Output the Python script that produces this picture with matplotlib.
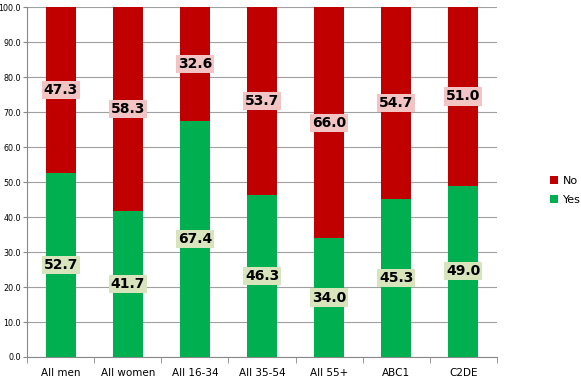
import numpy as np
import matplotlib.pyplot as plt

categories = ['All men', 'All women', 'All 16-34', 'All 35-54', 'All 55+', 'ABC1', 'C2DE']
yes_vals = [52.7, 41.7, 67.4, 46.3, 34.0, 45.3, 49.0]
no_vals = [47.3, 58.3, 32.6, 53.7, 66.0, 54.7, 51.0]

red = '#C00000'
green = '#00B050'

fig = plt.figure(figsize=(5.81, 3.81), dpi=100)
ax = fig.add_axes([0.047, 0.063, 0.808, 0.918])

x = np.arange(len(categories))
ax.bar(x, yes_vals, width=0.44, color=green, label='Yes', zorder=3)
ax.bar(x, no_vals, width=0.44, bottom=yes_vals, color=red, label='No', zorder=3)

# value labels in the middle of each segment
for i in range(len(categories)):
    ax.text(x[i], yes_vals[i] / 2, f'{yes_vals[i]:.1f}', ha='center', va='center',
            fontsize=10, fontweight='bold', zorder=4,
            bbox=dict(boxstyle='square,pad=0.15', facecolor='#D7E4BC', edgecolor='none'))
    ax.text(x[i], yes_vals[i] + no_vals[i] / 2, f'{no_vals[i]:.1f}', ha='center', va='center',
            fontsize=10, fontweight='bold', zorder=4,
            bbox=dict(boxstyle='square,pad=0.15', facecolor='#F2C4C4', edgecolor='none'))

ax.set_xlim(-0.5, len(categories) - 0.5)
ax.set_ylim(0, 100)
ax.set_yticks(np.arange(0, 101, 10))
ax.set_yticklabels([f'{v:.1f}' for v in np.arange(0, 101, 10)], fontsize=5.8)
ax.yaxis.grid(True, color='#A0A0A0', linewidth=0.8, zorder=0)

ax.set_xticks(x)
ax.set_xticklabels(categories, fontsize=7.5)
ax.tick_params(axis='x', length=0, pad=8)
ax.set_xticks(np.arange(-0.5, len(categories), 1), minor=True)
ax.tick_params(axis='x', which='minor', length=4, color='#888888')
ax.tick_params(axis='y', length=3, color='#888888', pad=1.5)

for s in ['top', 'right']:
    ax.spines[s].set_visible(False)
for s in ['left', 'bottom']:
    ax.spines[s].set_color('#888888')

handles, labels = ax.get_legend_handles_labels()
fig.legend(handles[::-1], labels[::-1], loc='center left', bbox_to_anchor=(0.93, 0.5),
           frameon=False, fontsize=8, handlelength=0.7, handleheight=0.7,
           handletextpad=0.4, labelspacing=0.8)

fig.savefig('out.png', dpi=100)
